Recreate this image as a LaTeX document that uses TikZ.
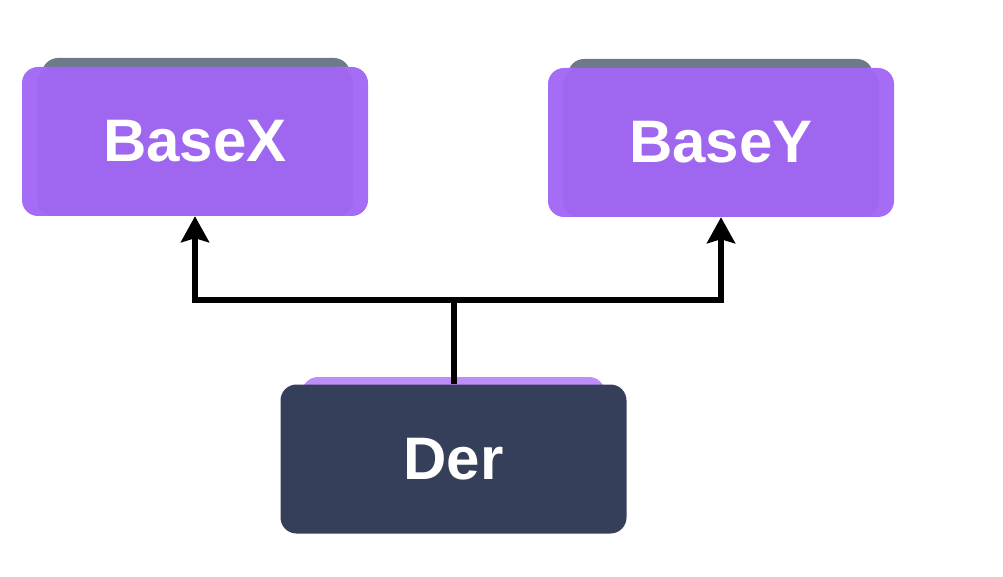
\documentclass[tikz,border=0pt]{standalone}
\usepackage{fontspec}
\setmainfont{Liberation Sans}
\usetikzlibrary{arrows.meta}

\definecolor{basefill}{HTML}{9F66F0}
\definecolor{baseedge}{HTML}{A56CF6}
\definecolor{basestrip}{HTML}{6E7A8A}
\definecolor{derfill}{HTML}{353F5A}
\definecolor{derstrip}{HTML}{BE8EF8}

\tikzstyle{cls} = [rectangle,rounded corners=16pt,minimum width=346pt,minimum height=149pt,text=white,font=\fontsize{60}{72}\selectfont\bfseries,inner sep=0pt]
\tikzstyle{strip} = [rectangle,rounded corners=16pt,minimum height=60pt,inner sep=0pt]
\tikzstyle{link} = [line width=6pt]
\tikzstyle{arrow} = [link,-{Stealth[length=26pt,width=28pt,inset=4pt]}]

\begin{document}
\begin{tikzpicture}[x=1pt,y=-1pt]
	\useasboundingbox (0,0) rectangle (1003,577);
	% strips behind the boxes
	\node (basexstrip) [strip,fill=basestrip,minimum width=308pt] at (196,88) {};
	\node (baseystrip) [strip,fill=basestrip,minimum width=305pt] at (720.5,89) {};
	\node (derstrip) [strip,fill=derstrip,minimum width=303pt] at (453.5,407) {};
	% classes
	\node (basex) [cls,fill=baseedge] at (195,141.5) {};
	\fill [basefill,rounded corners=16pt] (37,67) rectangle (353,216);
	\node [text=white,font=\fontsize{60}{72}\selectfont\bfseries] at (basex) {BaseX};
	\node (basey) [cls,fill=baseedge] at (721,142.5) {};
	\fill [basefill,rounded corners=16pt] (563,68) rectangle (879,217);
	\node [text=white,font=\fontsize{60}{72}\selectfont\bfseries] at (basey) {BaseY};
	\node (der) [cls,fill=derfill] at (453.5,459) {Der};
	% connections
	\coordinate (split) at (453.5,300);
	\draw [link] (der.north) -- (split);
	\draw [arrow] (split) -| (basex.south);
	\draw [arrow] (split) -| (basey.south);
\end{tikzpicture}
\end{document}
